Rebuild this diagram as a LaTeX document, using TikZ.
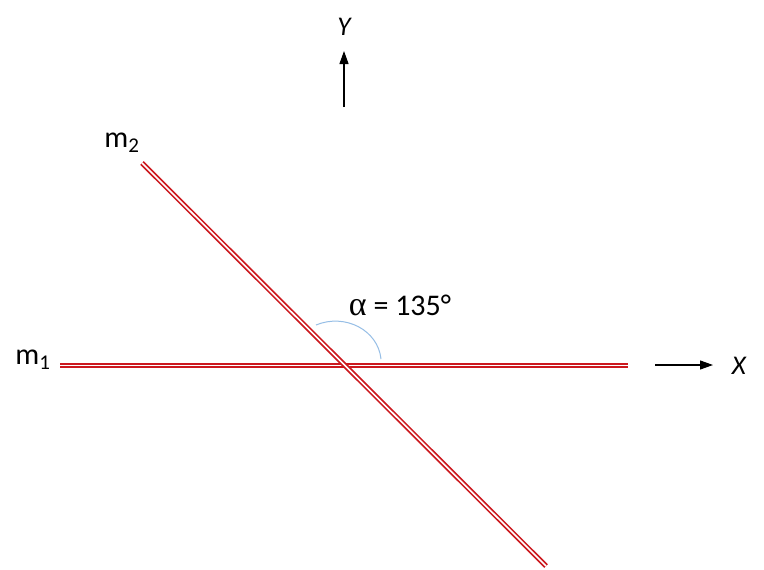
\documentclass[tikz,border=0pt]{standalone}
\usepackage{fontspec}
\setmainfont{Carlito}
\newfontfamily\greekfont{Liberation Serif}
\usetikzlibrary{arrows.meta}
\definecolor{mred}{RGB}{204,24,30}
\definecolor{arcblue}{RGB}{150,190,230}
\tikzset{
  member/.style={draw=mred, line width=1.7pt, double=white, double distance=1.6pt},
  axisarrow/.style={draw=black, line width=1.2pt, -{Triangle[length=13pt,width=9pt]}},
  lbl/.style={font=\fontsize{30}{34}\selectfont, inner sep=0pt},
  axlbl/.style={font=\fontsize{27}{32}\selectfont\itshape, inner sep=0pt}
}
\begin{document}
\begin{tikzpicture}[x=1pt,y=-1pt]
\useasboundingbox[fill=white] (0,0) rectangle (764,570);
% member end points
\coordinate (m1a) at (60,365.4);
\coordinate (m1b) at (628,365.4);
\coordinate (m2a) at (142,163);
\coordinate (m2b) at (546,566);
\draw[member] (m1a) -- (m1b);
\draw[member] (m2a) -- (m2b);
% angle arc
\coordinate (arcS) at (316,325);
\coordinate (arcE) at (381,359);
\draw[arcblue, line width=1pt] (arcS) .. controls (345,313) and (378,330) .. (arcE);
\node[lbl] (alpha) at (400,305) {{\greekfont\fontsize{34}{34}\selectfont α} = 135°};
% labels
\node[lbl] (m1) at (33,360) {m\textsubscript{1}};
\node[lbl] (m2) at (122,143) {m\textsubscript{2}};
% axes
\coordinate (ys) at (344,107);
\coordinate (ye) at (344,51);
\draw[axisarrow] (ys) -- (ye);
\node[axlbl] (Y) at (344,27) {Y};
\coordinate (xs) at (655,365);
\coordinate (xe) at (713,365);
\draw[axisarrow] (xs) -- (xe);
\node[axlbl] (X) at (739,366) {X};
\end{tikzpicture}
\end{document}
